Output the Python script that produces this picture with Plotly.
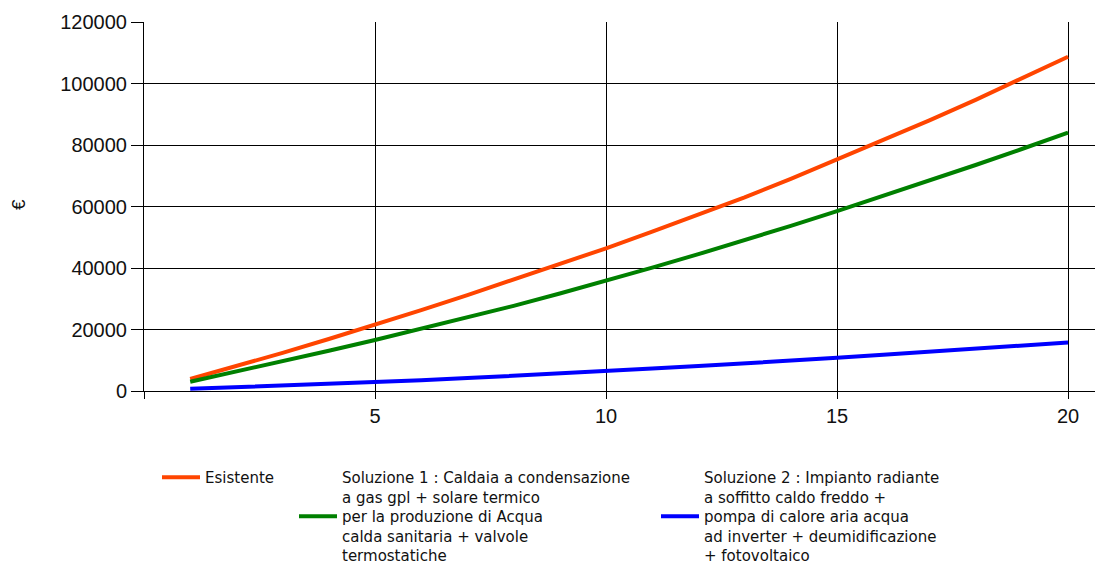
import plotly.graph_objects as go

years = list(range(1, 21))
esistente = [3900, 8100, 12400, 16900, 21500, 26300, 31200, 36200, 41200, 46400,
             51800, 57300, 63000, 69000, 75300, 81600, 88000, 94700, 101600, 108700]
soluzione1 = [3000, 6300, 9600, 13100, 16600, 20300, 23900, 27700, 31700, 35800,
              40100, 44500, 49000, 53700, 58500, 63400, 68400, 73500, 78700, 84000]
soluzione2 = [700, 1200, 1700, 2200, 2800, 3500, 4200, 4900, 5700, 6500,
              7300, 8100, 8900, 9800, 10800, 11800, 12800, 13800, 14800, 15800]

names = [
    "Esistente",
    "Soluzione 1 : Caldaia a condensazione<br>a gas gpl + solare termico<br>per la produzione di Acqua<br>calda sanitaria + valvole<br>termostatiche",
    "Soluzione 2 : Impianto radiante<br>a soffitto caldo freddo +<br>pompa di calore aria acqua<br>ad inverter + deumidificazione<br>+ fotovoltaico",
]
colors = ["#FF4500", "#008000", "#0000FF"]
x_ticks = [0, 5, 10, 15, 20]
x_ticktext = ["", "5", "10", "15", "20"]

W, H = 1103, 563
fig = go.Figure()
series = [esistente, soluzione1, soluzione2]
legends = ["legend", "legend2", "legend3"]
for s, n, c, lg in zip(series, names, colors, legends):
    fig.add_trace(go.Scatter(x=years, y=s, mode="lines", name=n, showlegend=True,
                             line=dict(color=c, width=4), legend=lg))

font_family = "Liberation Sans, Arial, sans-serif"
leg_font = "DejaVu Sans, Verdana, sans-serif"
leg_common = dict(xref="container", yref="container", xanchor="left", yanchor="top",
                  bgcolor="rgba(0,0,0,0)", borderwidth=0, visible=True,
                  font=dict(family=leg_font, size=15, color="#111"),
                  valign="middle", itemwidth=38, tracegroupgap=0)

leg_top = 453
fig.update_layout(
    width=W, height=H, showlegend=True,
    margin=dict(l=136, r=0, t=14, b=180, autoexpand=False),
    paper_bgcolor="white", plot_bgcolor="white",
    font=dict(family=font_family, color="#111"),
    legend=dict(x=149 / W, y=1 - leg_top / H, **leg_common),
    legend2=dict(x=286 / W, y=1 - leg_top / H, **leg_common),
    legend3=dict(x=648 / W, y=1 - leg_top / H, **leg_common),
    xaxis=dict(range=[0, 20.93], tickvals=x_ticks, ticktext=x_ticktext,
               showgrid=True, gridcolor="#000", gridwidth=1,
               zeroline=False, showline=True, linecolor="#000", linewidth=1,
               ticks="outside", ticklen=7, tickcolor="#000", automargin=False,
               tickfont=dict(size=20, color="#111", family=font_family)),
    yaxis=dict(range=[0, 120000], dtick=20000, tickformat="d",
               showgrid=True, gridcolor="#000", gridwidth=1,
               zeroline=False, showline=True, linecolor="#000", linewidth=1,
               ticks="outside", ticklen=12, tickcolor="#000", automargin=False,
               tickfont=dict(size=20, color="#111", family=font_family)),
    annotations=[dict(text="€", xref="paper", yref="paper",
                      x=(11 - 136) / (W - 136), y=1 - (197 - 14) / (H - 14 - 180),
                      xanchor="center", yanchor="middle", textangle=-90,
                      showarrow=False, font=dict(size=19, color="#111", family=font_family))],
)

fig.write_html("out.html")
